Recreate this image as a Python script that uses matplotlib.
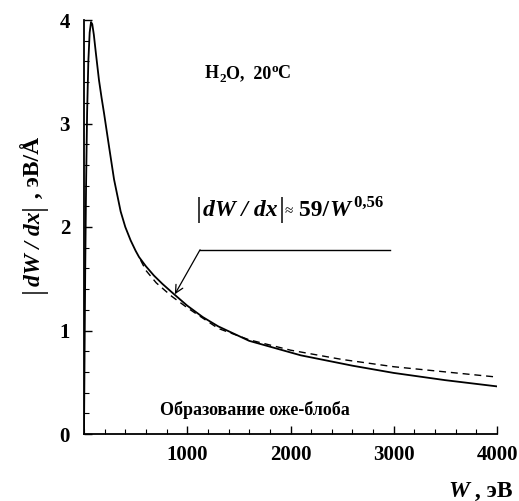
import matplotlib
matplotlib.use("Agg")
import matplotlib.pyplot as plt
from matplotlib.ticker import MultipleLocator
from matplotlib.transforms import offset_copy

plt.rcParams['font.family'] = ['Liberation Serif', 'DejaVu Serif']

# Solid curve: stopping power |dW/dx| (eV/Å) vs W (eV)
energy_solid = [0, 5, 12, 20, 30, 42, 55, 68, 80, 95, 115, 145, 170, 194, 242, 291,
                355, 400, 452, 500, 533, 600, 678, 760, 850, 1000, 1150, 1300, 1600,
                2100, 2600, 3000, 3500, 4000]
loss_solid = [0, 0.7, 1.6, 2.4, 3.1, 3.6, 3.88, 3.98, 3.96, 3.86, 3.68, 3.42, 3.25,
              3.10, 2.78, 2.46, 2.15, 2.00, 1.87, 1.77, 1.71, 1.62, 1.53, 1.45, 1.37,
              1.24, 1.13, 1.04, 0.90, 0.76, 0.66, 0.59, 0.52, 0.46]

# Dashed fit curve: |dW/dx| ≈ 59/W^0.56
energy_fit = [548, 600, 700, 850, 1000, 1300, 1600, 2000, 2500, 3000, 3500, 4000]
loss_fit = [1.68, 1.58, 1.46, 1.33, 1.22, 1.02, 0.91, 0.81, 0.72, 0.65, 0.60, 0.55]

x_ticks = [1000, 2000, 3000, 4000]
y_ticks = [0, 1, 2, 3, 4]

arrow_tip = (880, 1.35)
arrow_corner = (1124, 1.78)
arrow_end = (2960, 1.78)

fig = plt.figure(figsize=(5.19, 5.01), dpi=100)
ax = fig.add_axes([84/519, 1-434/501, (497-84)/519, (434-20)/501])

ax.plot(energy_solid, loss_solid, color='black', lw=1.3, solid_joinstyle='round')
ax.plot(energy_fit, loss_fit, color='black', lw=1.0, dashes=(5, 3.5))

ax.set_xlim(0, 4000)
ax.set_ylim(0, 4)
ax.set_xticks(x_ticks)
ax.set_yticks(y_ticks)
ax.xaxis.set_minor_locator(MultipleLocator(200))
ax.yaxis.set_minor_locator(MultipleLocator(0.2))
for s in ['top', 'right']:
    ax.spines[s].set_visible(False)
for s in ['left', 'bottom']:
    ax.spines[s].set_linewidth(1.3)
ax.tick_params(which='major', direction='in', length=6, width=1.0, labelsize=15)
ax.tick_params(axis='y', which='major', pad=10)
ax.tick_params(axis='x', which='major', pad=8)
ax.tick_params(which='minor', direction='in', length=3.5, width=0.8)
for lab in ax.get_xticklabels() + ax.get_yticklabels():
    lab.set_fontweight('bold')

# annotation arrow
ax.annotate('', xy=arrow_tip, xytext=arrow_corner,
            arrowprops=dict(arrowstyle='->', color='black', lw=0.9,
                            shrinkA=0, shrinkB=0, mutation_scale=14))
ax.plot([arrow_corner[0], arrow_end[0]], [arrow_corner[1], arrow_end[1]],
        color='black', lw=1.0)

renderer = fig.canvas.get_renderer()


def chain(x, y, pieces, transform, vertical=False):
    """Place text pieces one after another along a common baseline (pixels)."""
    adv = 0.0
    for s, kw, gap, rise in pieces:
        adv += gap
        if vertical:
            tr = offset_copy(transform, fig, x=-rise, y=adv, units='dots')
            t = fig.text(x, y, s, transform=tr, rotation=90, rotation_mode='anchor',
                         ha='left', va='baseline', **kw)
            adv += t.get_window_extent(renderer).height
        else:
            tr = offset_copy(transform, fig, x=adv, y=rise, units='dots')
            t = fig.text(x, y, s, transform=tr, ha='left', va='baseline', **kw)
            adv += t.get_window_extent(renderer).width


bar = dict(fontsize=21, fontweight='normal')
bi = dict(fontsize=17, fontweight='bold', fontstyle='italic')
b = dict(fontsize=17, fontweight='bold')

# formula annotation
chain(196/519, 1-216/501, [
    ('|', bar, 0, -1),
    ('dW / dx', bi, 1, 0),
    ('|', bar, 1, -1),
    ('≈', dict(fontsize=11), 0, 1),
    (' 59/', b, 0, 0),
    ('W', bi, 0, 0),
    (' 0,56', dict(fontsize=12, fontweight='bold'), 0, 9),
], fig.transFigure)

# y label
chain(40/519, 1-293/501, [
    ('|', bar, 0, -1),
    ('dW / dx', bi, 1, 0),
    ('|', bar, 1, -1),
    (' , эВ/Å', b, 0, 0),
], fig.transFigure, vertical=True)

# x label
chain(448/519, 1-497/501, [
    ('W', dict(fontsize=17, fontweight='bold', fontstyle='italic'), 0, 0),
    (' , эВ', dict(fontsize=17, fontweight='bold'), 0, 0),
], fig.transFigure)

# H2O, 20°C
chain(205/519, 1-78/501, [
    ('H', dict(fontsize=13, fontweight='bold'), 0, 0),
    ('2', dict(fontsize=9.5, fontweight='bold'), 0, -4),
    ('O,  20', dict(fontsize=13, fontweight='bold'), 0, 0),
    ('o', dict(fontsize=9.5, fontweight='bold'), 0, 6),
    ('C', dict(fontsize=13, fontweight='bold'), 0, 0),
], fig.transFigure)

ax.text(736, 0.23, 'Образование оже-блоба', fontsize=13, fontweight='bold',
        ha='left', va='center')

fig.savefig('out.png', dpi=100)
